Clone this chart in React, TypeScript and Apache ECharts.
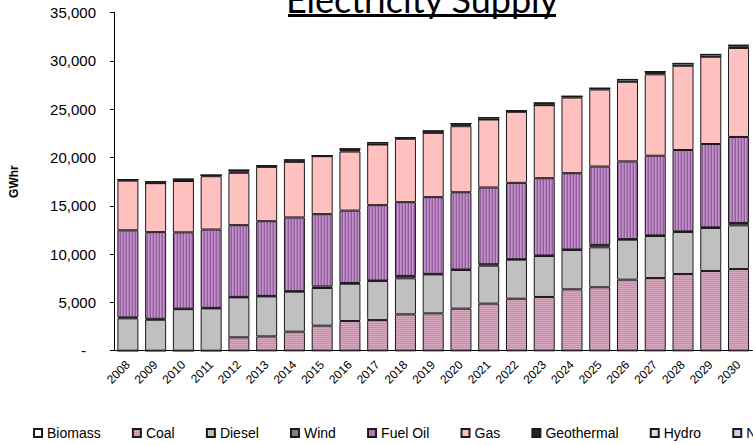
import React, { useEffect, useRef } from "react";
import * as echarts from "echarts";

const years = ["2008","2009","2010","2011","2012","2013","2014","2015","2016","2017","2018","2019","2020","2021","2022","2023","2024","2025","2026","2027","2028","2029","2030"];

const biomass = [0,0,0,0,0,0,0,0,0,0,0,0,0,0,0,0,0,0,0,0,0,0,0];
const coal = [0,0,0,0,1380,1480,1970,2590,3070,3170,3760,3860,4350,4870,5380,5560,6350,6560,7350,7520,7940,8250,8450];
const diesel = [3350,3200,4300,4380,4140,4140,4140,3900,3860,4040,3730,4040,4000,3930,4040,4240,4070,4140,4140,4350,4350,4450,4520];
const wind = [100,100,50,50,50,50,50,150,80,50,250,50,50,150,50,50,50,250,60,60,60,60,250];
const fuelOil = [9010,8970,7900,8110,7420,7730,7630,7490,7490,7800,7630,7940,8000,7940,7900,8000,7900,8110,8040,8250,8420,8630,8900];
const gas = [5140,5070,5310,5520,5420,5620,5760,6000,6110,6280,6560,6660,6830,7040,7350,7560,7830,7970,8250,8420,8730,9040,9210];
const geothermal = [100,0,0,100,150,100,0,50,150,0,120,0,150,0,100,0,120,120,0,150,0,0,150];
const hydro = [0,170,200,0,130,0,200,0,130,200,0,200,130,200,0,230,0,0,230,130,230,230,130];
const nuclear = [0,0,0,0,0,0,0,0,0,0,0,0,0,0,0,0,0,0,0,0,0,0,0];

const yTicks = { min: 0, max: 35000, interval: 5000 };

function stripePattern(w: number, h: number, cells: string[], vertical: boolean) {
  const c = document.createElement("canvas");
  c.width = w;
  c.height = h;
  const ctx = c.getContext("2d")!;
  cells.forEach((col, i) => {
    ctx.fillStyle = col;
    if (vertical) ctx.fillRect(i, 0, 1, h);
    else ctx.fillRect(0, i, w, 1);
  });
  return { image: c, repeat: "repeat" } as any;
}

export default function App() {
  const ref = useRef<HTMLDivElement>(null);
  useEffect(() => {
    if (!ref.current) return;
    const chart = echarts.init(ref.current, null, { renderer: "svg" });
    const coalFill = stripePattern(1, 2, ["#d8a8c0", "#c491ad"], false);
    const fuelFill = stripePattern(3, 1, ["#935da0", "#c292c8", "#b07cb8"], true);
    const border = { borderColor: "#1a1a1a", borderWidth: 1 };
    const mk = (name: string, data: number[], color: any) => ({
      name,
      type: "bar",
      stack: "total",
      data,
      barWidth: 21,
      itemStyle: { color, ...border },
      emphasis: { disabled: true },
    });
    chart.setOption({
      animation: false,
      backgroundColor: "#ffffff",
      textStyle: { fontFamily: "Liberation Sans, Arial, sans-serif" },
      grid: { left: 114, right: 0.6, top: 12.5, bottom: 94.3 },
      xAxis: {
        type: "category",
        data: years,
        axisLine: { lineStyle: { color: "#000", width: 1 } },
        axisTick: { length: 4, lineStyle: { color: "#000" } },
        axisLabel: { rotate: 45, interval: 0, fontSize: 12, color: "#000", margin: 12 },
      },
      yAxis: {
        type: "value",
        min: yTicks.min,
        max: yTicks.max,
        interval: yTicks.interval,
        name: "GWhr",
        nameLocation: "middle",
        nameGap: 94,
        nameRotate: 90,
        nameTextStyle: { fontWeight: "bold", fontSize: 12, color: "#000" },
        axisLine: { show: true, lineStyle: { color: "#000" } },
        axisTick: { show: true, length: 4, lineStyle: { color: "#000" } },
        splitLine: { show: false },
        axisLabel: {
          fontSize: 15,
          color: "#000",
          margin: 18,
          formatter: (v: number) => (v === 0 ? "{d|-}" : v.toLocaleString("en-US")),
          rich: { d: { fontSize: 15, color: "#000", padding: [0, 10, 0, 0] } },
        },
      },
      legend: {
        left: 33,
        top: 426,
        padding: 0,
        width: 1000,
        itemWidth: 8,
        itemHeight: 8,
        itemGap: 31.2,
        icon: "rect",
        textStyle: { fontSize: 14, color: "#000" },
      },
      graphic: [
        {
          type: "text",
          x: 422,
          y: -1,
          style: {
            text: "Electricity Supply",
            font: "36px Lato, 'Open Sans', sans-serif",
            fill: "#000",
            align: "center",
            verticalAlign: "middle",
          },
        },
        {
          type: "rect",
          shape: { x: 288, y: 14, width: 268, height: 3 },
          style: { fill: "#000" },
        },
      ],
      series: [
        mk("Biomass", biomass, "#ffffff"),
        mk("Coal", coal, coalFill),
        mk("Diesel", diesel, "#c0c0c0"),
        mk("Wind", wind, "#808080"),
        mk("Fuel Oil", fuelOil, fuelFill),
        mk("Gas", gas, "#ffc0c0"),
        mk("Geothermal", geothermal, "#262626"),
        mk("Hydro", hydro, "#dcdcf8"),
        mk("Nuclear", nuclear, "#d0d0f4"),
      ],
    });
    return () => chart.dispose();
  }, []);
  return (
    <div
      ref={ref}
      style={{ position: "absolute", left: 0, top: 0, width: 753, height: 445 }}
    />
  );
}
